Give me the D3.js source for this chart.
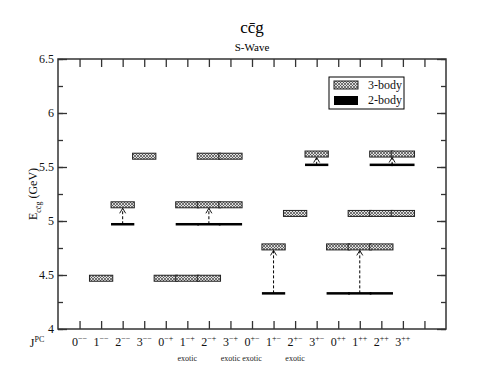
<!DOCTYPE html>
<html><head><meta charset="utf-8">
<script src="https://cdn.jsdelivr.net/npm/d3@7/dist/d3.min.js"></script>
<style>body{margin:0;background:#fff}svg{display:block}</style>
</head><body><svg id="c" width="502" height="388" font-family="'Liberation Serif','Times New Roman','DejaVu Serif',serif"></svg>
<script>
// ---- data ----
const categories = ["0--","1--","2--","3--","0-+","1-+","2-+","3-+","0+-","1+-","2+-","3+-","0++","1++","2++","3++"];
const exotic = ["1-+","3-+","0+-","2+-"];
const yTicks = [4, 4.5, 5, 5.5, 6, 6.5];
const yTickLabels = ["4","4.5","5","5.5","6","6.5"];
// 3-body levels (GeV) and the J^PC channels they appear in
const threeBodyMass = [4.47, 5.15, 5.60, 4.47, 5.15, 5.60, 4.76, 5.07, 5.62, 4.76, 5.07, 5.62];
const threeBodyJPC = [["1--"],["2--"],["3--"],["0-+","1-+","2-+"],["1-+","2-+","3-+"],["2-+","3-+"],
                      ["1+-"],["2+-"],["3+-"],["0++","1++","2++"],["1++","2++","3++"],["2++","3++"]];
// 2-body levels and the 3-body level they point to
const twoBodyMass = [4.97, 4.97, 4.33, 5.52, 4.33, 5.52];
const twoBodyJPC = [["2--"],["1-+","2-+","3-+"],["1+-"],["3+-"],["0++","1++","2++"],["2++","3++"]];
const arrowTarget = [5.15, 5.15, 4.76, 5.62, 4.76, 5.62];
const legendLabels = ["3-body","2-body"];

// ---- chart ----
const svg = d3.select("#c");
const L=58, R=446, T=59, B=329;
const x = d3.scaleLinear().domain([0,18]).range([L,R]);
const y = d3.scaleLinear().domain([4,6.5]).range([B,T]);
const pos = j => categories.indexOf(j) + 1;

const defs = svg.append("defs");
const pat = defs.append("pattern").attr("id","hatch").attr("patternUnits","userSpaceOnUse")
  .attr("width",3).attr("height",3);
pat.append("rect").attr("width",3).attr("height",3).attr("fill","#e0e0e0");
pat.append("path").attr("d","M0,0L3,3M3,0L0,3").attr("stroke","#444").attr("stroke-width",0.7);

const ink="#333";
const minor = d3.range(4,6.51,0.25);
function styleAxis(g){ g.select(".domain").remove(); g.selectAll("line").attr("stroke",ink).attr("stroke-width",1.3); g.selectAll("text").remove(); }
svg.append("g").attr("transform",`translate(0,${B})`)
  .call(d3.axisBottom(x).tickValues(d3.range(1,18)).tickSize(-8)).call(styleAxis);
svg.append("g").attr("transform",`translate(0,${T})`)
  .call(d3.axisTop(x).tickValues(d3.range(1,18)).tickSize(-8)).call(styleAxis);
svg.append("g").attr("transform",`translate(${L},0)`)
  .call(d3.axisLeft(y).tickValues(yTicks).tickSize(-9)).call(styleAxis);
svg.append("g").attr("transform",`translate(${L},0)`)
  .call(d3.axisLeft(y).tickValues(minor).tickSize(-5)).call(styleAxis);
svg.append("g").attr("transform",`translate(${R},0)`)
  .call(d3.axisRight(y).tickValues(yTicks).tickSize(-9)).call(styleAxis);
svg.append("g").attr("transform",`translate(${R},0)`)
  .call(d3.axisRight(y).tickValues(minor).tickSize(-5)).call(styleAxis);
svg.append("rect").attr("x",L).attr("y",T).attr("width",R-L).attr("height",B-T)
  .attr("fill","none").attr("stroke",ink).attr("stroke-width",1.5);

// y tick labels
svg.selectAll(".yl").data(yTicks).enter().append("text")
  .attr("x",L-4).attr("y",d=>y(d)+4).attr("text-anchor","end").attr("font-size",12).attr("fill","#111")
  .text((d,i)=>yTickLabels[i]);

// x tick labels
const sign = c => c==="-" ? "\u2212" : "+";
const xl = svg.selectAll(".xl").data(categories).enter().append("text")
  .attr("x",(d,i)=>x(i+1)).attr("y",B+17).attr("text-anchor","middle").attr("font-size",12).attr("fill","#111");
xl.append("tspan").text(d=>d[0]);
xl.append("tspan").attr("dy",-5).attr("font-size",8).text(d=>sign(d[1])+sign(d[2]));
const jl = svg.append("text").attr("x",37).attr("y",B+18).attr("text-anchor","middle").attr("font-size",12).attr("fill","#111");
jl.append("tspan").text("J");
jl.append("tspan").attr("dy",-5).attr("font-size",8).text("PC");
svg.selectAll(".ex").data(exotic).enter().append("text")
  .attr("x",d=>x(pos(d))).attr("y",B+32).attr("text-anchor","middle").attr("font-size",8).attr("fill","#222").text("exotic");

// y label
const yl = svg.append("text").attr("transform",`translate(37,${(T+B)/2}) rotate(-90)`)
  .attr("text-anchor","middle").attr("font-size",12).attr("fill","#111");
yl.append("tspan").text("E");
yl.append("tspan").attr("dy",4).attr("font-size",8).text("cc\u0304g");
yl.append("tspan").attr("dy",-4).text(" (GeV)");

// title
svg.append("text").attr("x",(L+R)/2).attr("y",33).attr("text-anchor","middle").attr("font-size",17).text("cc\u0304g");
svg.append("text").attr("x",(L+R)/2).attr("y",51).attr("text-anchor","middle").attr("font-size",11).text("S-Wave");

// 2-body lines
const hw=0.54, bh=6;
twoBodyJPC.forEach((g,i)=>{
  svg.selectAll(null).data(g).enter().append("rect")
    .attr("x",d=>x(pos(d)-hw)).attr("width",x(2*hw)-x(0))
    .attr("y",y(twoBodyMass[i])-1.25).attr("height",2.5).attr("fill","#000");
});
// arrows
twoBodyJPC.forEach((g,i)=>{
  const cx = x(d3.mean(g,pos));
  const y0 = y(twoBodyMass[i]), y1 = y(arrowTarget[i]) + bh/2 + 0.5;
  svg.append("line").attr("x1",cx).attr("x2",cx).attr("y1",y0).attr("y2",y1)
    .attr("stroke","#000").attr("stroke-width",1).attr("stroke-dasharray","3,2");
  svg.append("path").attr("d",`M${cx-3},${y1+5}L${cx},${y1}L${cx+3},${y1+5}`)
    .attr("fill","none").attr("stroke","#000").attr("stroke-width",0.9);
});
// 3-body boxes
threeBodyJPC.forEach((g,i)=>{
  svg.selectAll(null).data(g).enter().append("rect")
    .attr("x",d=>x(pos(d)-hw)).attr("width",x(2*hw)-x(0))
    .attr("y",y(threeBodyMass[i])-bh/2).attr("height",bh)
    .attr("fill","url(#hatch)").attr("stroke","#222").attr("stroke-width",1);
});

// legend
const lg = svg.append("g");
lg.append("rect").attr("x",329).attr("y",77).attr("width",75).attr("height",32)
  .attr("fill","#fff").attr("stroke","#000").attr("stroke-width",1);
lg.append("rect").attr("x",334).attr("y",81).attr("width",24).attr("height",8)
  .attr("fill","url(#hatch)").attr("stroke","#222");
lg.append("rect").attr("x",334).attr("y",96).attr("width",24).attr("height",9).attr("fill","#000");
lg.selectAll(".lt").data(legendLabels).enter().append("text")
  .attr("x",368).attr("y",(d,i)=>89+i*15).attr("font-size",12).attr("fill","#111").text(d=>d);
</script></body></html>
